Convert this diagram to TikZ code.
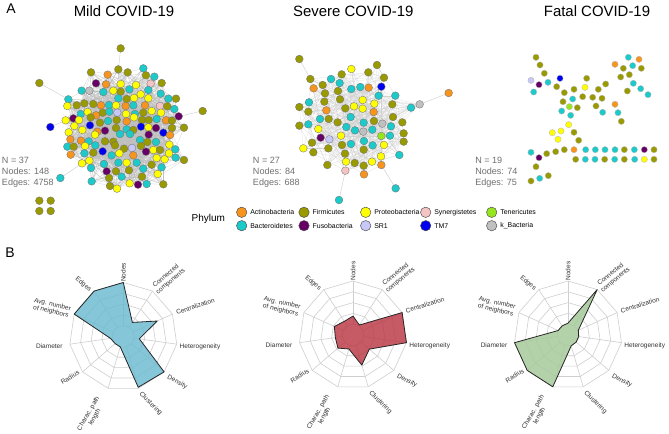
\documentclass[tikz,border=0pt]{standalone}
\usepackage{fontspec}
\setmainfont{Liberation Sans}
\definecolor{cA}{HTML}{F7941E}
\definecolor{cF}{HTML}{999900}
\definecolor{cP}{HTML}{FFFF00}
\definecolor{cS}{HTML}{F4C4C4}
\definecolor{cT}{HTML}{96E61E}
\definecolor{cB}{HTML}{1CCACA}
\definecolor{cU}{HTML}{660066}
\definecolor{cR}{HTML}{C8C8F8}
\definecolor{cM}{HTML}{0000F0}
\definecolor{cK}{HTML}{C0C0C0}
\definecolor{rBlue}{HTML}{6BBAD1}
\definecolor{rRed}{HTML}{BA3744}
\definecolor{rGreen}{HTML}{A4C997}
\definecolor{gridc}{HTML}{CFCFCF}
\definecolor{statc}{HTML}{707070}
\tikzset{
  mnode/.style={circle, draw=black!55, line width=0.25pt, inner sep=0pt, minimum size=5.8pt},
  fnode/.style={circle, draw=black!30, line width=0.2pt, inner sep=0pt, minimum size=4.7pt},
  lnode/.style={circle, draw=black!70, line width=0.35pt, inner sep=0pt, minimum size=7.8pt},
  ltext/.style={anchor=west, inner sep=0pt, font=\fontsize{5.2}{6}\selectfont},
  edgeline/.style={draw=gray!50, line width=0.1pt},
  ttl/.style={font=\fontsize{11.2}{13}\selectfont},
  stat/.style={align=left, anchor=west, inner sep=0pt, text=statc, font=\fontsize{6.8}{8.25}\selectfont},
  rl/.style={align=center, inner sep=0pt, text=black!80, font=\fontsize{4.9}{5.4}\selectfont},
  panel/.style={font=\fontsize{10.5}{12}\selectfont}
}
\def\mildlist{183/97/cF,233/104/cA,265/88/cF,293/97/cF,340/85/cB,348/106/cF,373/110/cB,198/130/cU,228/133/cA,272/132/cP,318/135/cP,362/131/cS,395/129/cF,155/152/cB,178/152/cK,220/156/cB,250/152/cP,272/155/cF,298/148/cB,332/163/cP,355/150/cB,392/161/cB,115/178/cB,265/175/cB,290/177/cF,312/174/cP,355/175/cP,415/176/cB,438/176/cF,112/198/cP,140/196/cF,163/190/cF,190/192/cF,213/196/cA,237/195/cB,258/196/cP,287/198/cA,310/196/cB,345/196/cA,390/198/cS,412/199/cF,152/222/cB,173/216/cP,198/226/cA,218/218/cF,238/215/cB,262/218/cR,288/222/cP,315/222/cB,340/218/cF,365/213/cP,393/218/cP,433/207/cB,446/229/cU,107/241/cP,130/235/cU,147/240/cP,182/232/cF,210/248/cF,234/243/cB,260/240/cF,290/244/cA,312/232/cP,336/240/cF,356/240/cF,380/237/cB,408/241/cA,426/242/cF,116/277/cP,133/258/cP,157/270/cP,180/256/cM,202/275/cA,225/272/cU,258/264/cF,290/268/cB,310/270/cF,333/260/cM,355/262/cP,378/264/cU,400/278/cM,426/264/cF,121/298/cA,153/302/cA,176/304/cB,195/284/cP,225/304/cF,250/305/cF,270/282/cB,300/282/cB,330/300/cB,356/284/cU,378/306/cB,420/285/cA,112/320/cB,131/320/cF,165/318/cP,196/316/cB,218/334/cM,255/316/cF,282/326/cF,306/324/cR,333/318/cF,352/306/cF,370/330/cP,390/330/cF,418/314/cP,436/328/cB,122/344/cA,163/340/cB,190/338/cF,245/346/cB,268/340/cP,310/346/cA,348/335/cU,380/354/cP,404/358/cP,417/340/cP,437/353/cB,156/370/cP,178/362/cP,222/372/cB,265/368/cB,290/368/cP,320/368/cB,340/386/cB,365/374/cF,395/382/cB,183/384/cB,230/394/cU,258/394/cF,297/391/cF,336/410/cF,383/402/cP,185/424/cB,237/414/cF,275/410/cB,240/438/cF,261/446/cP,299/430/cP,324/434/cU,350/432/cB,400/433/cF,462/263/cF,462/360/cF}
\def\severelist{199/72/cP,250/82/cF,276/60/cF,76/102/cF,138/102/cB,170/88/cF,297/98/cF,86/130/cA,113/120/cF,164/114/cB,199/132/cB,226/126/cB,251/128/cA,289/125/cM,120/145/cF,159/138/cF,281/152/cB,331/152/cB,43/186/cF,72/172/cB,118/170/cF,165/163/cF,233/165/cP,268/176/cP,322/178/cF,378/188/cB,404/178/cK,70/200/cF,124/196/cA,181/190/cF,207/184/cP,233/191/cP,266/201/cA,324/216/cF,43/242/cF,70/238/cB,105/222/cB,131/222/cF,197/216/cB,236/233/cB,267/228/cF,292/236/cK,318/244/cB,352/232/cF,100/252/cP,158/232/cF,184/246/cB,210/256/cB,235/260/cK,262/254/cB,289/273/cT,315/272/cB,356/265/cF,107/278/cU,133/283/cR,168/272/cP,81/293/cF,171/300/cF,198/297/cB,237/288/cB,263/301/cB,297/300/cP,356/290/cF,55/310/cP,85/322/cF,130/310/cF,180/326/cF,236/314/cF,343/330/cB,127/360/cF,183/350/cP,209/354/cF,236/362/cF,261/350/cP,288/334/cP,289/360/cA,181/377/cS,237/388/cA}
\def\fatallist{48/37/cF,60/60/cF,73/85/cF,33/106/cR,57/119/cU,84/112/cB,120/100/cM,41/141/cB,110/125/cF,200/100/cF,195/127/cP,162/133/cF,235/133/cF,257/117/cF,133/143/cF,188/155/cF,218/157/cF,246/160/cF,158/162/cB,129/170/cF,148/185/cT,172/188/cF,228/183/cF,125/198/cB,152/211/cB,248/202/cB,285/178/cA,294/203/cB,304/229/cF,146/239/cP,123/258/cP,97/263/cP,114/283/cP,162/262/cF,176/286/cF,285/58/cA,325/37/cB,357/43/cA,310/70/cF,338/62/cB,364/70/cF,302/96/cF,328/89/cF,340/115/cB,322/138/cF,362/131/cB,384/149/cB,33/322/cB,80/326/cF,107/320/cF,133/314/cF,162/314/cA,197/314/cB,226/314/cB,255/314/cB,285/314/cB,313/314/cF,343/314/cB,373/314/cU,402/314/cF,57/338/cU,48/365/cF,33/408/cF,59/400/cB,85/392/cF,167/343/cF,196/343/cB,225/343/cB,254/343/cF,284/343/cB,313/343/cF,344/343/cB,373/343/cP,402/343/cF}
% radar chart: #1 cx, #2 cy, #3 colour, #4 eleven values, #5 name prefix
\newcommand{\myradar}[5]{%
\begin{scope}[shift={(#1,#2)}, y=0.75pt]
  \foreach \k in {0,...,10} {\coordinate (#5s\k) at ({90-\k*360/11}:54);}
  \draw[gridc, line width=0.45pt] (0,0) circle (10.8);
  \foreach \f in {0.4,0.6,0.8,1.0} {
    \draw[gridc, line width=0.45pt] ({90}:{54*\f})
      \foreach \k in {1,...,10} { -- ({90-\k*360/11}:{54*\f}) } -- cycle;
  }
  \foreach \k in {0,...,10} {\draw[gridc, line width=0.45pt] ({90-\k*360/11}:10.8) -- (#5s\k);}
  \foreach \v [count=\k from 0] in {#4} {\coordinate (#5d\k) at ({90-\k*360/11}:{54*\v});}
  \fill[#3, fill opacity=0.82] (#5d0) -- (#5d1) -- (#5d2) -- (#5d3) -- (#5d4) -- (#5d5) -- (#5d6) -- (#5d7) -- (#5d8) -- (#5d9) -- (#5d10) -- cycle;
  \draw[black!85, line width=0.6pt, line join=round] (#5d0) -- (#5d1) -- (#5d2) -- (#5d3) -- (#5d4) -- (#5d5) -- (#5d6) -- (#5d7) -- (#5d8) -- (#5d9) -- (#5d10) -- cycle;
  \node[rl, rotate=90] (#5l0) at (0,64) {Nodes};
  \node[rl, rotate=40] (#5l1) at (45,57.7) {Connected\\components};
  \node[rl, rotate=18] (#5l2) at (72,30) {Centralization};
  \node[rl] (#5l3) at (76.7,-10.7) {Heterogeneity};
  \node[rl, rotate=-28] (#5l4) at (54,-45.7) {Density};
  \node[rl, rotate=-45] (#5l5) at (27.4,-67.3) {Clustering};
  \node[rl, rotate=60] (#5l6) at (-31.6,-79) {Charac. path\\length};
  \node[rl, rotate=32] (#5l7) at (-53.3,-40.7) {Radius};
  \node[rl] (#5l8) at (-74,-9.7) {Diameter};
  \node[rl, rotate=-13] (#5l9) at (-71.6,28.3) {Avg. number\\of neighbors};
  \node[rl, rotate=-40] (#5l10) at (-40,52) {Edges};
\end{scope}}
\begin{document}
\begin{tikzpicture}[x=0.75pt,y=-0.75pt]
\fill[white] (0,0) rectangle (669,433);
\useasboundingbox (0,0) rectangle (669,433);
\pgfmathsetseed{12345}
% ---------- titles
\node[panel] (pA) at (11,9) {A};
\node[panel] (pB) at (10,253) {B};
\node[ttl] (t1) at (124,11) {Mild COVID-19};
\node[ttl] (t2) at (353.3,11) {Severe COVID-19};
\node[ttl] (t3) at (597,11) {Fatal COVID-19};
% ---------- mild network
\begin{scope}[shift={(30,40)}, x=0.25pt, y=-0.25pt]
  \foreach \x/\y/\c [count=\i] in \mildlist {\coordinate (m\i) at (\x,\y);}
  \foreach \e in {1,...,1400} {
    \pgfmathtruncatemacro{\ea}{random(1,145)}
    \pgfmathtruncatemacro{\eb}{random(1,145)}
    \draw[edgeline] (m\ea) -- (m\eb);
  }
  \foreach \x/\y/\c/\t [count=\i] in {272/25/cF/3,28/129/cF/23,61/261/cM/55,518/213/cF/54,91/414/cB/120} {
    \coordinate (mo\i) at (\x,\y);
    \draw[edgeline, draw=gray!40, line width=0.3pt] (mo\i) -- (m\t);
  }
  \foreach \x/\y/\c [count=\i] in \mildlist {\node[mnode, fill=\c] (mn\i) at (m\i) {};}
  \foreach \i/\c in {1/cF,2/cF,3/cM,4/cF,5/cB} {\node[mnode, fill=\c] (mon\i) at (mo\i) {};}
  \foreach \x/\y [count=\i] in {28/482,62/482,28/513,62/513} {\node[mnode, fill=cF] (mi\i) at (\x,\y) {};}
\end{scope}
\node[stat] (s1) at (1.7,172.7) {N = 37\\Nodes: 148\\Edges: 4758};
% ---------- severe network
\begin{scope}[shift={(285,45)}, x=0.25pt, y=-0.25pt]
  \foreach \x/\y/\c [count=\i] in \severelist {\coordinate (s\i) at (\x,\y);}
  \foreach \e in {1,...,450} {
    \pgfmathtruncatemacro{\ea}{random(1,78)}
    \pgfmathtruncatemacro{\eb}{random(1,78)}
    \draw[edgeline, draw=gray!35] (s\ea) -- (s\eb);
  }
  \foreach \x/\y/\c/\t [count=\i] in {43/42/cF/4,491/144/cA/27,332/430/cB/76,162/465/cB/77} {
    \coordinate (so\i) at (\x,\y);
    \draw[edgeline, draw=gray!40, line width=0.3pt] (so\i) -- (s\t);
  }
  \draw[edgeline, draw=gray!40, line width=0.3pt] (s27) -- (s26);
  \foreach \x/\y/\c [count=\i] in \severelist {\node[mnode, fill=\c] (sn\i) at (s\i) {};}
  \foreach \i/\c in {1/cF,2/cA,3/cB,4/cB} {\node[mnode, fill=\c] (son\i) at (so\i) {};}
\end{scope}
\node[stat] (s2) at (252.7,172.7) {N = 27\\Nodes: 84\\Edges: 688};
% ---------- fatal network
\begin{scope}[shift={(520,45)}, x=0.25pt, y=-0.25pt]
  \foreach \x/\y/\c [count=\i] in \fatallist {\node[fnode, fill=\c] (f\i) at (\x,\y) {};}
\end{scope}
\node[stat] (s3) at (475,172.7) {N = 19\\Nodes: 74\\Edges: 75};
% ---------- legend
\node[font=\fontsize{7.5}{9}\selectfont] (phy) at (208.3,219) {Phylum};
\foreach \cx/\ca/\ta/\cb/\tb [count=\i] in {241.7/cA/Actinobacteria/cB/Bacteroidetes,304/cF/Firmicutes/cU/Fusobacteria,365.7/cP/Proteobacteria/cR/SR1,425.7/cS/Synergistetes/cM/TM7,491.7/cT/Tenericutes/cK/k\_Bacteria} {
  \node[lnode, fill=\ca] (la\i) at (\cx,212.3) {};
  \node[ltext] (lta\i) at ([xshift=6.3pt]la\i.center) {\ta};
  \node[lnode, fill=\cb] (lb\i) at (\cx,225.7) {};
  \node[ltext] (ltb\i) at ([xshift=6.3pt]lb\i.center) {\tb};
}
% ---------- radar charts
\myradar{123.3}{336.5}{rBlue}{1.0,0.31,0.69,0.30,1.0,0.98,0.2,0.2,0.24,1.0,1.0}{ra}
\myradar{353}{335}{rRed}{0.35,0.22,1.0,1.0,0.4,0.58,0.27,0.37,0.33,0.38,0.3}{rb}
\myradar{568}{335}{rGreen}{0.22,1.0,0.21,0.2,0.2,0.21,1.0,1.0,1.0,0.2,0.2}{rc}
\end{tikzpicture}
\end{document}
